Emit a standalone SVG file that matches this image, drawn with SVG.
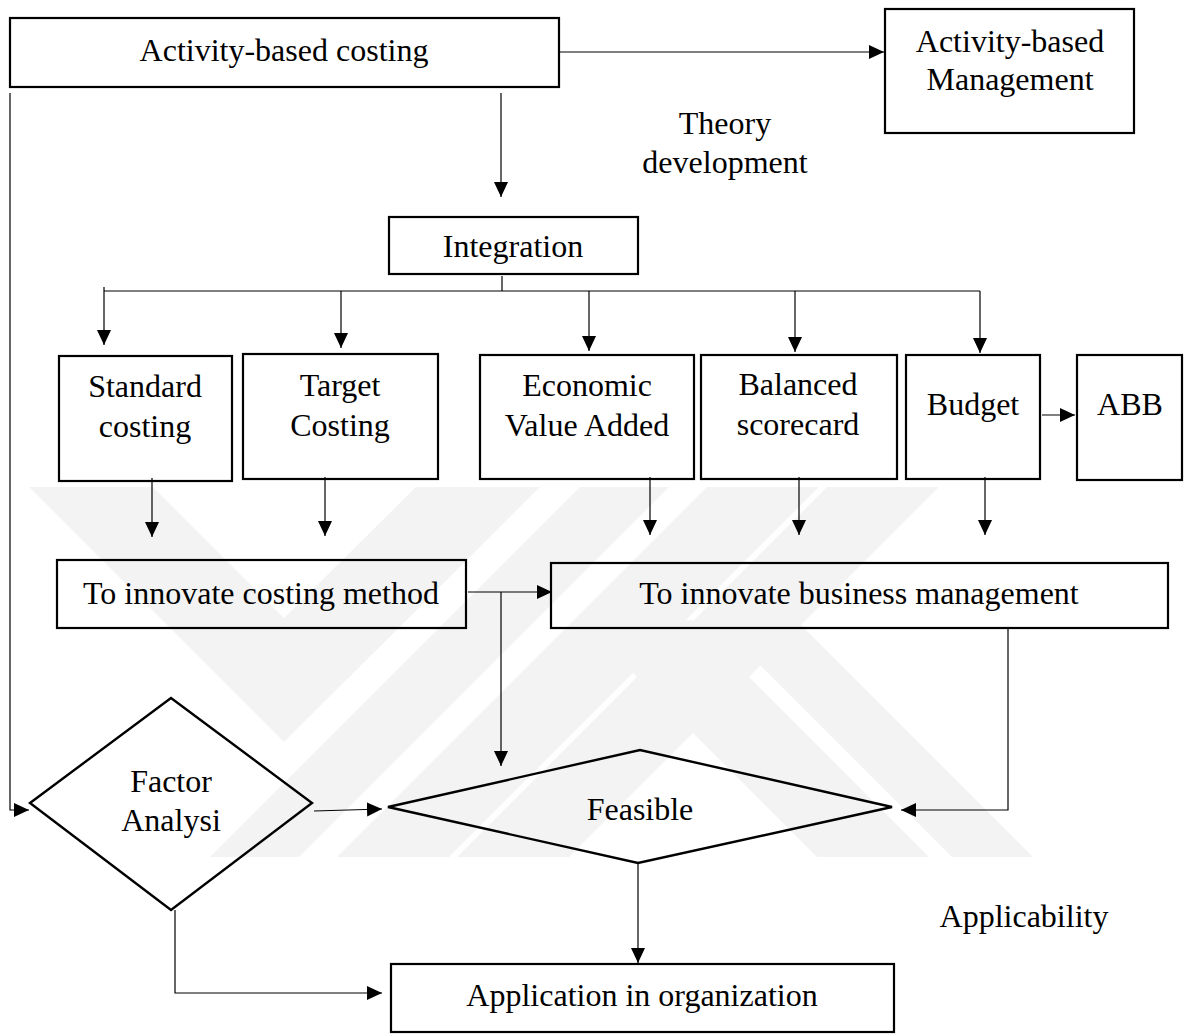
<svg xmlns="http://www.w3.org/2000/svg" width="1185" height="1035" viewBox="0 0 1185 1035">
<defs>
<style>
.box{fill:none;stroke:#000;stroke-width:2.2}
.shape{fill:none;stroke:#000;stroke-width:2.4;stroke-linejoin:miter}
.con{fill:none;stroke:#000;stroke-width:1.2}
.arr{marker-end:url(#ah)}
.wm{fill:#f3f3f3;stroke:none}
text{font-family:"Liberation Serif","Times New Roman",serif;font-size:32px;fill:#000;text-anchor:middle}
</style>
<marker id="ah" markerUnits="userSpaceOnUse" markerWidth="16" markerHeight="16" refX="15" refY="7" orient="auto">
<path d="M0,0 L15,7 L0,14 z" fill="#000"/>
</marker>
</defs>
<rect width="1185" height="1035" fill="#fff"/>

<g id="watermark">
<polygon class="wm" points="29,487 153,487 284,618 416,487 540,487 284,742"/>
<polygon class="wm" points="580,620 692,620 929,857 817,857"/>
<polygon class="wm" points="715,620 796,620 1033,857 952,857"/>
<polygon class="wm" points="580,487 669,487 299,857 210,857"/>
<polygon class="wm" points="707,487 819,487 449,857 337,857"/>
<polygon class="wm" points="827,487 939,487 569,857 457,857"/>
</g>

<g id="connectors">
<path class="con arr" d="M559,52 H884"/>
<path class="con arr" d="M501,93 V197"/>
<path class="con" d="M502,276 V291"/>
<path class="con" d="M104,291 H980"/>
<path class="con arr" d="M104,287 V345"/>
<path class="con arr" d="M341,291 V348"/>
<path class="con arr" d="M589,291 V351"/>
<path class="con arr" d="M795,291 V352"/>
<path class="con arr" d="M980,291 V353"/>
<path class="con arr" d="M1042,415 H1075"/>
<path class="con arr" d="M152,478 V537"/>
<path class="con arr" d="M325,477 V536"/>
<path class="con arr" d="M650,477 V535"/>
<path class="con arr" d="M799,477 V535"/>
<path class="con arr" d="M985,477 V535"/>
<path class="con arr" d="M468,592 H552"/>
<path class="con arr" d="M501,592 V766"/>
<path class="con arr" d="M1008,628 V810 H901"/>
<path class="con arr" d="M10,93 V810 H29"/>
<path class="con arr" d="M314,811 L382,809"/>
<path class="con arr" d="M175,910 V993 H382"/>
<path class="con arr" d="M638,863 V963"/>
</g>

<g id="abc"><rect class="box" x="10" y="18" width="549" height="69"/><text x="284" y="61">Activity-based costing</text></g>
<g id="abm"><rect class="box" x="885" y="9" width="249" height="124"/><text x="1010" y="52">Activity-based</text><text x="1010" y="90">Management</text></g>
<g id="theory"><text x="725" y="134">Theory</text><text x="725" y="173">development</text></g>
<g id="integration"><rect class="box" x="389" y="217" width="249" height="57"/><text x="513" y="257">Integration</text></g>
<g id="standard"><rect class="box" x="59" y="356" width="173" height="125"/><text x="145" y="397">Standard</text><text x="145" y="437">costing</text></g>
<g id="target"><rect class="box" x="243" y="354" width="195" height="125"/><text x="340" y="396">Target</text><text x="340" y="436">Costing</text></g>
<g id="eva"><rect class="box" x="480" y="355" width="214" height="124"/><text x="587" y="396">Economic</text><text x="587" y="436">Value Added</text></g>
<g id="bsc"><rect class="box" x="701" y="355" width="196" height="124"/><text x="798" y="395">Balanced</text><text x="798" y="435">scorecard</text></g>
<g id="budget"><rect class="box" x="906" y="355" width="134" height="124"/><text x="973" y="415">Budget</text></g>
<g id="abb"><rect class="box" x="1077" y="355" width="105" height="125"/><text x="1130" y="415">ABB</text></g>
<g id="innovate-costing"><rect class="box" x="57" y="560" width="409" height="68"/><text x="261" y="604">To innovate costing method</text></g>
<g id="innovate-business"><rect class="box" x="551" y="563" width="617" height="65"/><text x="859" y="604">To innovate business management</text></g>
<g id="factor"><polygon class="shape" points="30,803 171,698 312,803 171,910"/><text x="171" y="792">Factor</text><text x="171" y="831">Analysi</text></g>
<g id="feasible"><polygon class="shape" points="388,807 640,750 892,807 638,863"/><text x="640" y="820">Feasible</text></g>
<g id="applicability"><text x="1024" y="927">Applicability</text></g>
<g id="application"><rect class="box" x="391" y="964" width="503" height="68"/><text x="642" y="1006">Application in organization</text></g>
</svg>
